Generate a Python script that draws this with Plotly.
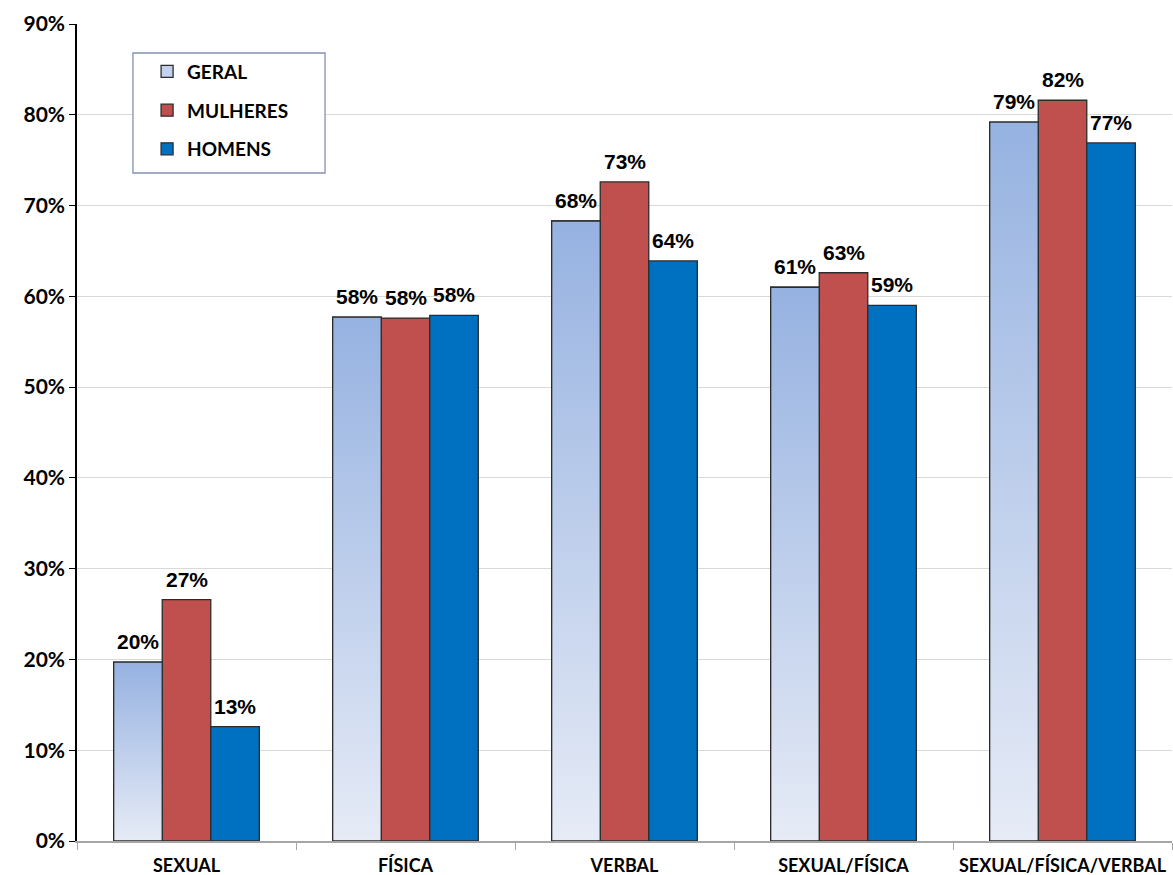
import plotly.graph_objects as go

# Share of respondents per type of violence, by group
categories = ["SEXUAL", "FÍSICA", "VERBAL", "SEXUAL/FÍSICA", "SEXUAL/FÍSICA/VERBAL"]
geral = [19.7, 57.7, 68.3, 61.0, 79.2]
mulheres = [26.6, 57.6, 72.6, 62.6, 81.6]
homens = [12.6, 57.9, 63.9, 59.0, 76.9]
y_ticks = [0, 10, 20, 30, 40, 50, 60, 70, 80, 90]

series = [
    ("GERAL", geral, "#c3d1ee"),
    ("MULHERES", mulheres, "#c0504d"),
    ("HOMENS", homens, "#0070c0"),
]

LABEL_FONT = "Lato, 'Open Sans', sans-serif"
VALUE_FONT = "'Liberation Sans', Arial, sans-serif"
OUTLINE = "#2b2b2b"

group_width = 0.665
bar_w = group_width / len(series)
xs = list(range(len(categories)))

fig = go.Figure()

for j, (name, vals, color) in enumerate(series):
    off = -group_width / 2 + j * bar_w
    fig.add_trace(go.Bar(
        name=name, x=xs, y=vals, width=bar_w, offset=off,
        marker=dict(color=color, line=dict(color=OUTLINE, width=1.3)),
        legendgroup=name,
    ))

# Vertical gradient fill for the GERAL bars, one polygon per bar
off0 = -group_width / 2
for i, v in zip(xs, geral):
    x0 = i + off0
    x1 = x0 + bar_w
    fig.add_trace(go.Scatter(
        x=[x0, x1, x1, x0, x0], y=[0, 0, v, v, 0],
        mode="lines", fill="toself",
        fillgradient=dict(type="vertical",
                          colorscale=[[0, "#e6ebf6"], [1, "#96b2e1"]]),
        line=dict(color=OUTLINE, width=1.3),
        showlegend=False, hoverinfo="skip",
    ))

# Value labels above each bar
for j, (name, vals, color) in enumerate(series):
    off = -group_width / 2 + j * bar_w
    for i, v in zip(xs, vals):
        fig.add_annotation(
            x=i + off + bar_w / 2, y=v, text=f"<b>{v:.0f}%</b>",
            showarrow=False, yanchor="bottom", yshift=7,
            font=dict(family=VALUE_FONT, size=21, color="#000000"),
        )

# Legend frame
fig.add_shape(
    type="rect", xref="paper", yref="paper",
    x0=0.0511, x1=0.2265, y0=0.8176, y1=0.9645,
    line=dict(color="#8391b5", width=1.3), fillcolor="white", layer="above",
)

fig.update_layout(
    width=1173, height=875,
    margin=dict(l=77, r=1, t=24, b=34, autoexpand=False),
    paper_bgcolor="white", plot_bgcolor="white",
    barmode="overlay",
    showlegend=True,
    legend=dict(
        x=0.064, y=0.965, xanchor="left", yanchor="top",
        bgcolor="rgba(0,0,0,0)", borderwidth=0,
        font=dict(family=LABEL_FONT, size=19, color="#000000", weight="bold"),
        tracegroupgap=11, traceorder="grouped",
    ),
    xaxis=dict(
        range=[-0.5, len(categories) - 0.5], automargin=False,
        tickmode="array", tickvals=xs, ticktext=categories,
        ticks="", ticklabelstandoff=8,
        tickfont=dict(family=LABEL_FONT, size=18, color="#000000", weight="bold"),
        showline=True, linecolor="#a6a6a6", linewidth=1.5,
        showgrid=False, zeroline=False,
        minor=dict(tickmode="array",
                   tickvals=[k - 0.5 for k in range(len(categories) + 1)],
                   ticks="outside", ticklen=7, tickcolor="#a6a6a6", tickwidth=1.2,
                   showgrid=False),
    ),
    yaxis=dict(
        range=[0, 90], automargin=False, tickmode="array", tickvals=y_ticks,
        ticktext=[f"{t}%" for t in y_ticks],
        ticks="outside", ticklen=6, tickcolor="#000000", tickwidth=1.3,
        tickfont=dict(family=LABEL_FONT, size=21, color="#000000", weight="bold"),
        showline=True, linecolor="#000000", linewidth=1.5,
        showgrid=True, gridcolor="#d9d9d9", gridwidth=1,
        zeroline=False,
    ),
)

fig.write_html("out.html")
